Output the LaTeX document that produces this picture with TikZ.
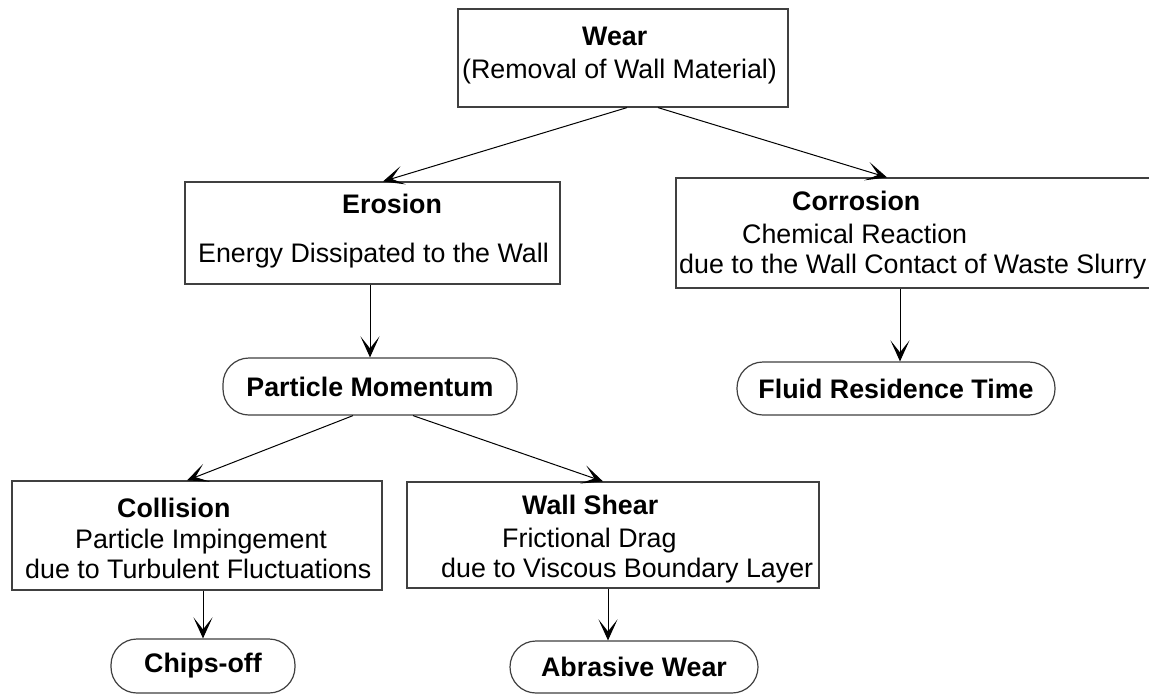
\documentclass[tikz,border=0pt]{standalone}
\usepackage{fontspec}
\setmainfont{Liberation Sans}
\usetikzlibrary{arrows.meta}
\newcommand{\diagfs}{\fontsize{26.8}{30}\selectfont}
\begin{document}
\begin{tikzpicture}[x=1pt,y=-1pt,
  box/.style={draw=black!75, line width=1.2pt, inner sep=0pt},
  pill/.style={draw=black!75, line width=1.2pt, rounded corners=26pt, inner sep=0pt, font=\diagfs\bfseries},
  txt/.style={anchor=base west, inner sep=0pt, font=\diagfs},
  ttl/.style={anchor=base west, inner sep=0pt, font=\diagfs\bfseries},
  conn/.style={draw=black, line width=1pt, -{Stealth[length=21pt,width=19pt,inset=12pt]}}]
\fill[white] (0,0) rectangle (1149,694);
\clip (0,0) rectangle (1149,694);
% boxes
\node[box, minimum width=330pt, minimum height=98pt] (wear) at (623,58) {};
\node[ttl] (wearT) at (582,45) {Wear};
\node[txt] (wearS) at (462,78) {(Removal of Wall Material)};

\node[box, minimum width=375pt, minimum height=102pt] (erosion) at (372.5,233) {};
\node[ttl] (erosionT) at (342,213) {Erosion};
\node[txt] (erosionS) at (198,262) {Energy Dissipated to the Wall};

\node[box, minimum width=484pt, minimum height=110pt] (corrosion) at (918,233) {};
\node[ttl] (corrosionT) at (792,210) {Corrosion};
\node[txt] (corrosionS) at (742,243) {Chemical Reaction};
\node[txt] (corrosionU) at (679,273) {due to the Wall Contact of Waste Slurry};

\node[pill, minimum width=294pt, minimum height=57pt] (pm) at (370,386.5) {Particle Momentum};
\node[pill, minimum width=318pt, minimum height=53pt] (fluid) at (896,388.5) {Fluid Residence Time};

\node[box, minimum width=370pt, minimum height=109pt] (collision) at (197,535.5) {};
\node[ttl] (collisionT) at (117,517) {Collision};
\node[txt] (collisionS) at (75,548) {Particle Impingement};
\node[txt] (collisionU) at (25,578) {due to Turbulent Fluctuations};

\node[box, minimum width=412pt, minimum height=106pt] (shear) at (613,535) {};
\node[ttl] (shearT) at (522,514) {Wall Shear};
\node[txt] (shearS) at (502,547) {Frictional Drag};
\node[txt] (shearU) at (441,577) {due to Viscous Boundary Layer};

\node[pill, minimum width=184pt, minimum height=54pt] (chips) at (203,666) {Chips-off};
\node[pill, minimum width=248pt, minimum height=52pt] (abrasive) at (634,667) {Abrasive Wear};

% connectors
\draw[conn] ([xshift=4pt]wear.south) -- ([xshift=10.5pt]erosion.north);
\draw[conn] ([xshift=35pt]wear.south) -- ([xshift=-31pt]corrosion.north);
\draw[conn] (pm.north |- erosion.south) -- (pm.north);
\draw[conn] ([xshift=4pt]fluid.north |- corrosion.south) -- ([xshift=4pt]fluid.north);
\draw[conn] ([xshift=-17pt]pm.south) -- ([xshift=-10pt]collision.north);
\draw[conn] ([xshift=43pt]pm.south) -- ([xshift=-10pt]shear.north);
\draw[conn] (chips.north |- collision.south) -- (chips.north);
\draw[conn] ([xshift=-5pt]shear.south) -- ([xshift=-5pt]shear.south |- abrasive.north);
\end{tikzpicture}
\end{document}
